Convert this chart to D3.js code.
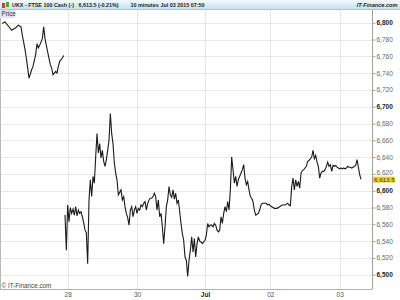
<!DOCTYPE html>
<html>
<head>
<meta charset="utf-8">
<script src="https://cdn.jsdelivr.net/npm/d3@7"></script>
<style>
  body { margin: 0; background: #fff; }
  svg { display: block; font-family: "Liberation Sans", Arial, sans-serif; }
</style>
</head>
<body>
<div id="chart"></div>
<script>
// 10 minute bars, bar index counted from the left edge of the chart
var friBars = [1,3,5,8,11,13,15,16,17,18,19,20,21,23,24,26,27,28,29,31,32,33,34,35,37,38,39,41,42,43,44,46,47];
var friPrices = [6799,6801,6797,6791,6794,6797,6795,6785,6777,6768,6758,6746,6734,6744,6748,6762,6775,6770,6773,6781,6795,6781,6773,6765,6750,6746,6738,6742,6740,6748,6754,6758,6761];

var weekBars = d3.range(48, 271);
var weekPrices = [
  6571,6529,6583,6563,6580,6573,6578,6571,6581,6570,6577,6573,6575,6569,6562,6553,6550,6513,
  6589,6613,6593,6617,6609,6640,6668,6645,6656,6639,6648,6635,6629,6637,6648,6660,6692,6668,
  6656,6633,6621,6613,6595,6598,6601,6589,6593,6581,6573,6568,6559,6577,6581,6569,6577,6581,
  6573,6579,6577,6583,6581,6585,6587,6577,6585,6589,6591,6591,6593,6597,6593,6577,6589,6569,
  6573,6557,6537,6557,6581,6589,6605,6595,6592,6601,6590,6597,6585,6589,6575,6561,6549,6541,
  6521,6517,6498,6517,6529,6545,6527,6543,6521,6537,6545,6540,6539,6537,6539,6541,6547,6561,
  6557,6559,6559,6557,6561,6559,6553,6551,6553,6569,6561,6573,6581,6575,6587,6577,6601,6640,
  6625,6609,6617,6605,6613,6617,6621,6625,6631,6615,6607,6611,6601,6593,6591,6587,6577,6571,
  6572,6573,6577,6583,6585,6585,6585,6585,6583,6584,6582,6581,6580,6579,6579,6579,6580,6581,
  6582,6583,6583,6583,6584,6585,6583,6582,6605,6615,6601,6613,6605,6611,6603,6621,6624,6625,
  6627,6629,6635,6636,6638,6640,6648,6638,6642,6634,6629,6615,6621,6623,6623,6625,6629,6634,
  6629,6631,6623,6630,6629,6630,6628,6627,6626,6627,6626,6627,6626,6627,6629,6628,6628,6627,
  6628,6629,6630,6637,6628,6619,6613.5
];

var dayTicks = [50, 102, 153, 202, 254];
var dayLabels = ["28", "30", "Jul", "02", "03"];
var priceTicks = d3.range(6500, 6801, 20);
var lastPrice = 6613.5;

var width = 400, height = 300;
var plotLeft = 1, plotRight = 372, plotTop = 10, plotBottom = 289;

var svg = d3.select("#chart").append("svg")
  .attr("width", width)
  .attr("height", height);

var x = d3.scaleLinear().domain([0, 278]).range([plotLeft, plotRight - 0.3]);
var y = d3.scaleLinear().domain([6500, 6800]).range([274.7, 22.7]);

// grid
svg.append("g").selectAll("line.h")
  .data(priceTicks)
  .enter().append("line")
  .attr("x1", plotLeft).attr("x2", plotRight)
  .attr("y1", function(d) { return Math.round(y(d)) + 0.5; })
  .attr("y2", function(d) { return Math.round(y(d)) + 0.5; })
  .attr("stroke", "#e9e9e9");

svg.append("g").selectAll("line.v")
  .data(dayTicks)
  .enter().append("line")
  .attr("x1", function(d) { return Math.round(x(d)) + 0.5; })
  .attr("x2", function(d) { return Math.round(x(d)) + 0.5; })
  .attr("y1", plotTop).attr("y2", plotBottom)
  .attr("stroke", "#e6e6e6");

// price line
var line = d3.line()
  .x(function(d) { return x(d[0]); })
  .y(function(d) { return y(d[1]); });

svg.append("path")
  .datum(d3.zip(friBars, friPrices))
  .attr("d", line)
  .attr("fill", "none")
  .attr("stroke", "#1a1a1a")
  .attr("stroke-width", 1.1);

svg.append("path")
  .datum(d3.zip(weekBars, weekPrices))
  .attr("d", line)
  .attr("fill", "none")
  .attr("stroke", "#1a1a1a")
  .attr("stroke-width", 1.1);

// frame
svg.append("line")
  .attr("x1", 0.5).attr("x2", 0.5).attr("y1", plotTop).attr("y2", plotBottom)
  .attr("stroke", "#b8b8b8");
svg.append("line")
  .attr("x1", 0).attr("x2", plotRight).attr("y1", plotBottom + 0.5).attr("y2", plotBottom + 0.5)
  .attr("stroke", "#b0b0b0");

// right axis
var yAxis = d3.axisRight(y).tickValues(priceTicks).tickSize(3).tickPadding(1)
  .tickFormat(d3.format(",.0f"));
var ya = svg.append("g")
  .attr("transform", "translate(" + (plotRight + 0.5) + ",0)")
  .call(yAxis);
ya.select(".domain").attr("stroke", "#a0a0a0").attr("d", "M0," + plotTop + "V" + plotBottom);
ya.selectAll(".tick line").attr("stroke", "#a0a0a0");
ya.selectAll(".tick text")
  .attr("font-size", "6.5px")
  .attr("fill", function(d) { return d % 100 === 0 ? "#222" : "#666"; })
  .attr("font-weight", function(d) { return d % 100 === 0 ? "bold" : "normal"; });
// the current-price box sits on top of the 6,620 label
ya.selectAll(".tick text")
  .filter(function(d) { return Math.abs(d - lastPrice) < 10; })
  .attr("dy", "0.1em");

// bottom axis labels
var xa = svg.append("g")
  .attr("transform", "translate(0," + plotBottom + ")")
  .call(d3.axisBottom(x).tickValues(dayTicks).tickSize(0).tickPadding(3)
    .tickFormat(function(d, i) { return dayLabels[i]; }));
xa.select(".domain").remove();
xa.selectAll(".tick text")
  .attr("font-size", "6.5px")
  .attr("fill", function(d, i) { return dayLabels[i] === "Jul" ? "#222" : "#555"; })
  .attr("font-weight", function(d, i) { return dayLabels[i] === "Jul" ? "bold" : "normal"; });

// last price marker
var lp = svg.append("g").attr("transform", "translate(373," + y(lastPrice) + ")");
lp.append("rect")
  .attr("x", 0).attr("y", -2.8).attr("width", 22).attr("height", 6)
  .attr("fill", "#f3d41c");
lp.append("text")
  .attr("x", 1).attr("y", 2.3)
  .attr("font-size", "6.2px").attr("fill", "#333")
  .text(d3.format(",.1f")(lastPrice));

// header
var defs = svg.append("defs");
var grad = defs.append("linearGradient").attr("id", "hdr").attr("x1", 0).attr("x2", 0).attr("y1", 0).attr("y2", 1);
grad.append("stop").attr("offset", "0%").attr("stop-color", "#f3f9fc");
grad.append("stop").attr("offset", "100%").attr("stop-color", "#c4dfec");

svg.append("rect")
  .attr("x", 0).attr("y", 0).attr("width", width).attr("height", plotTop)
  .attr("fill", "url(#hdr)");
svg.append("line")
  .attr("x1", 0).attr("x2", width).attr("y1", plotTop - 0.5).attr("y2", plotTop - 0.5)
  .attr("stroke", "#a9c7d6");

// small candle icon
svg.append("rect").attr("x", 2).attr("y", 3).attr("width", 3).attr("height", 5).attr("fill", "#d83a2a");
svg.append("rect").attr("x", 6).attr("y", 2).attr("width", 3).attr("height", 5).attr("fill", "#4aa53c");

var hdr = [
  {t: "UKX - FTSE 100 Cash (-)", x: 12},
  {t: "6,613.5 (-0.21%)", x: 78.5},
  {t: "10 minutes", x: 130.5},
  {t: "Jul 03 2015 07:50", x: 160.5}
];
svg.append("g").selectAll("text")
  .data(hdr)
  .enter().append("text")
  .attr("x", function(d) { return d.x; })
  .attr("y", 7.3)
  .attr("font-size", "5.4px")
  .attr("font-weight", "bold")
  .attr("fill", "#1e1e1e")
  .text(function(d) { return d.t; });

svg.append("text")
  .attr("x", 397.5).attr("y", 7.3)
  .attr("text-anchor", "end")
  .attr("font-size", "5.6px")
  .attr("font-weight", "bold")
  .attr("font-style", "italic")
  .attr("fill", "#1e1e1e")
  .text("IT-Finance.com");

// "Price" tab
svg.append("rect")
  .attr("x", 0).attr("y", plotTop).attr("width", 15).attr("height", 8)
  .attr("fill", "#dfe6ee");
svg.append("text")
  .attr("x", 1.5).attr("y", plotTop + 6.3)
  .attr("font-size", "6.3px").attr("fill", "#333")
  .text("Price");

// copyright
svg.append("text")
  .attr("x", 1.5).attr("y", 288)
  .attr("font-size", "6.3px").attr("fill", "#444")
  .text("\u00a9 IT-Finance.com");
</script>
</body>
</html>
